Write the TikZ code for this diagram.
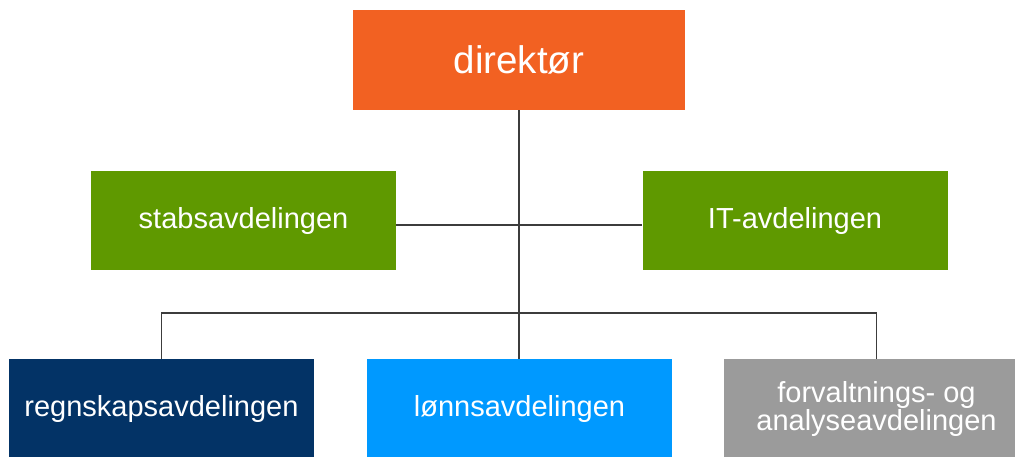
\documentclass[tikz,border=0pt]{standalone}
\usepackage{fontspec}
\setmainfont{Liberation Sans}
\usepackage{tikz}
\usetikzlibrary{calc}
\definecolor{dirorange}{HTML}{F26122}
\definecolor{stabgreen}{HTML}{5F9900}
\definecolor{regnnavy}{HTML}{033366}
\definecolor{lonnblue}{HTML}{0099FF}
\definecolor{forvgray}{HTML}{9B9B9B}
\definecolor{linegray}{HTML}{3C3C3C}
\tikzstyle{unit}=[rectangle,draw=none,text=white,minimum width=305pt,minimum height=99pt,inner sep=0pt,align=center,font=\fontsize{29}{28}\selectfont]
\tikzstyle{topunit}=[unit,minimum width=332pt,minimum height=100pt,font=\fontsize{38.5}{40}\selectfont]
\tikzstyle{link}=[draw=linegray,line width=1.5pt]

\begin{document}
\begin{tikzpicture}[x=1pt,y=-1pt]
    \useasboundingbox (0,0) rectangle (1015,456);
    % the director on top
    \node[topunit,fill=dirorange] (dir) at (519,60) {direktør};
    % the two staff units beside the main line
    \foreach \pos/\name/\label in {{(243.5,220.5)/stab/stabsavdelingen}, {(795,220.5)/it/IT-avdelingen}}
        \node[unit,fill=stabgreen] (\name) at \pos {\label};
    % the three departments below, cut by the lower edge
    \node[unit,fill=regnnavy] (regn) at (161.5,408.5) {regnskapsavdelingen};
    \node[unit,fill=lonnblue] (lonn) at (519.5,408.5) {lønnsavdelingen};
    \node[unit,fill=forvgray] (forv) at (876.5,408.5) {forvaltnings- og\\analyseavdelingen};
    % connect the units
    \coordinate (bus) at (519,313);
    \path[link] (dir.south) -- (dir.south |- lonn.north);
    \path[link] ([yshift=-4.5pt]stab.east) -- ([yshift=-4.5pt]it.west);
    \path[link] (regn.north) |- (bus) -| (forv.north);
\end{tikzpicture}
\end{document}
